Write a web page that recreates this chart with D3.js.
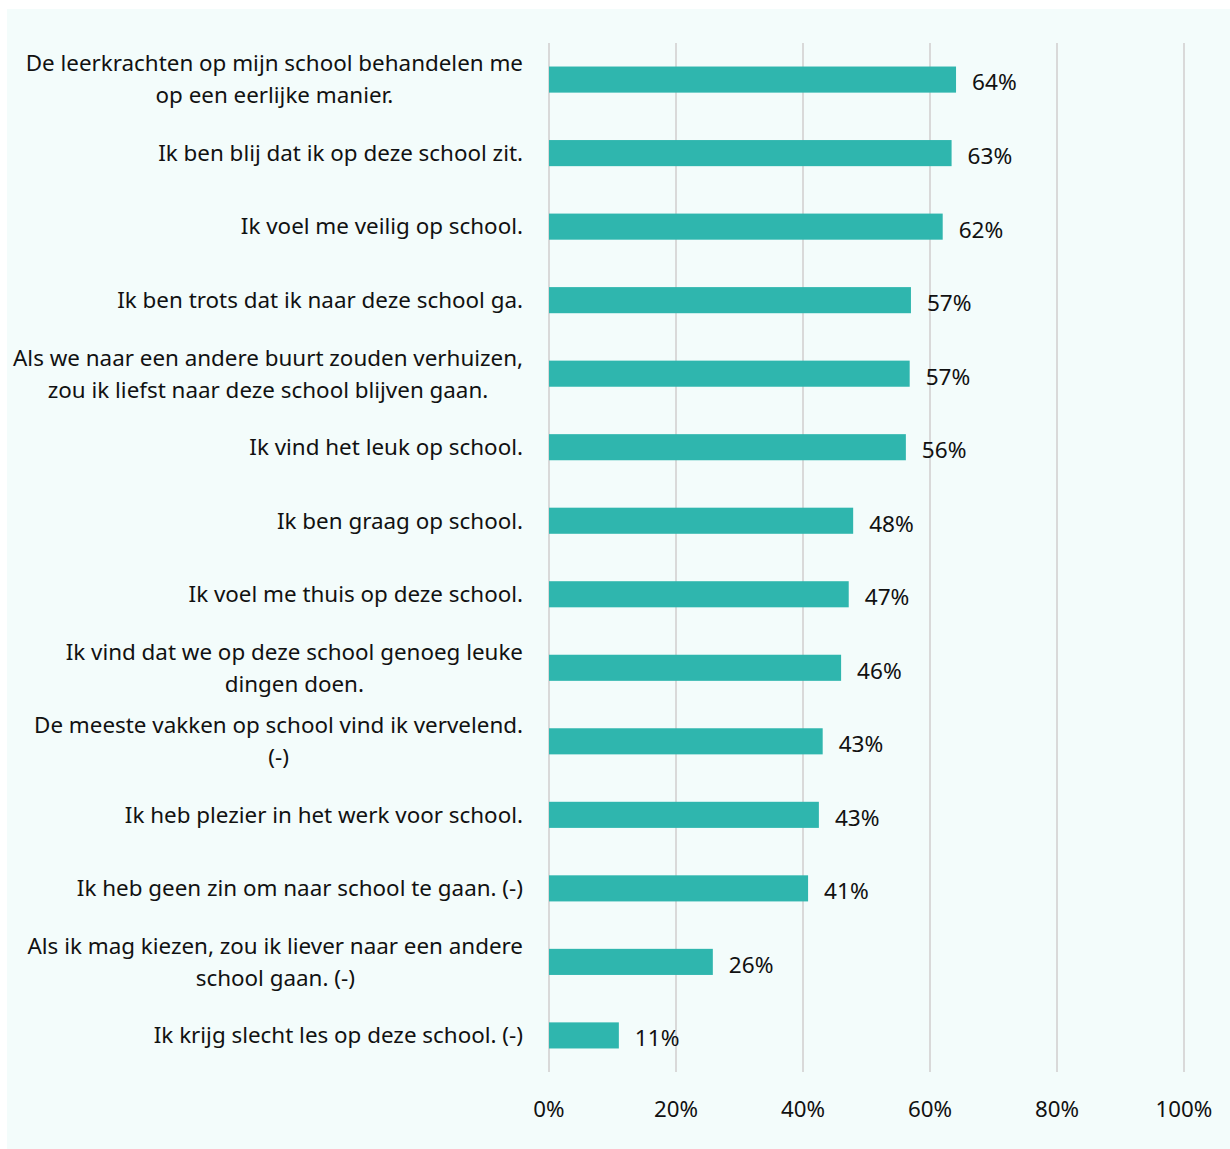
<!DOCTYPE html>
<html><head><meta charset="utf-8">
<script src="https://cdn.jsdelivr.net/npm/d3@7"></script>
<style>body{margin:0;background:#fff;} text{font-family:"Noto Sans",sans-serif;fill:#111;}</style>
</head><body>
<svg id="c" width="1230" height="1149"></svg>
<script>
const categories = [
  ["De leerkrachten op mijn school behandelen me","op een eerlijke manier."],
  ["Ik ben blij dat ik op deze school zit."],
  ["Ik voel me veilig op school."],
  ["Ik ben trots dat ik naar deze school ga."],
  ["Als we naar een andere buurt zouden verhuizen,","zou ik liefst naar deze school blijven gaan."],
  ["Ik vind het leuk op school."],
  ["Ik ben graag op school."],
  ["Ik voel me thuis op deze school."],
  ["Ik vind dat we op deze school genoeg leuke","dingen doen."],
  ["De meeste vakken op school vind ik vervelend.","(-)"],
  ["Ik heb plezier in het werk voor school."],
  ["Ik heb geen zin om naar school te gaan. (-)"],
  ["Als ik mag kiezen, zou ik liever naar een andere","school gaan. (-)"],
  ["Ik krijg slecht les op deze school. (-)"]
];
const values = [64.1, 63.4, 62.0, 57.0, 56.8, 56.2, 47.9, 47.2, 46.0, 43.1, 42.5, 40.8, 25.8, 11.0];
const tickValues = [0, 20, 40, 60, 80, 100];

const svg = d3.select("#c");
svg.append("rect").attr("x",7).attr("y",9).attr("width",1223).attr("height",1140).attr("fill","#f3fcfb");

const x = d3.scaleLinear().domain([0,100]).range([549,1184]);
const y = d3.scaleBand().domain(d3.range(categories.length)).range([43,1072]).paddingInner(0.645).paddingOuter(0.32);

svg.append("g").selectAll("line").data(tickValues).join("line")
  .attr("x1",d=>x(d)).attr("x2",d=>x(d)).attr("y1",43).attr("y2",1072)
  .attr("stroke","#d9d9d9").attr("stroke-width",2);

svg.append("g").selectAll("rect").data(values).join("rect")
  .attr("x",x(0)).attr("y",(d,i)=>y(i)).attr("width",d=>x(d)-x(0)).attr("height",y.bandwidth())
  .attr("fill","#2fb6ae");

svg.append("g").selectAll("text").data(values).join("text")
  .attr("x",d=>x(d)+16).attr("y",(d,i)=>y(i)+y.bandwidth()/2+3).attr("dy","0.35em")
  .attr("font-size",22.6).text(d=>Math.round(d)+"%");

svg.append("g").selectAll("text").data(tickValues).join("text")
  .attr("x",d=>x(d)).attr("y",1109).attr("dy","0.35em").attr("text-anchor","middle")
  .attr("font-size",22.3).text(d=>d+"%");

const lg = svg.append("g");
categories.forEach((lines,i)=>{
  const cy = y(i)+y.bandwidth()/2;
  const g = lg.append("g");
  const ts = lines.map((l,j)=>g.append("text").attr("font-size",22.4).attr("text-anchor","middle")
     .attr("y",cy + (j-(lines.length-1)/2)*32).attr("dy","0.35em").text(l));
  const w = d3.max(ts, t=>t.node().getComputedTextLength());
  ts.forEach(t=>t.attr("x",523-w/2));
});
</script>
</body></html>
